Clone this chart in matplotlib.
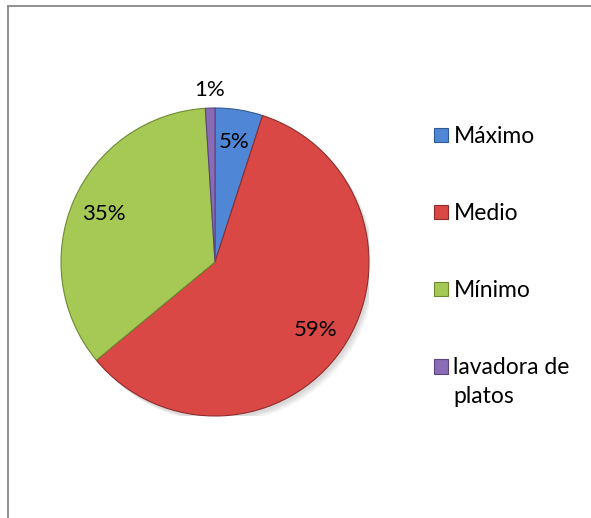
import matplotlib.pyplot as plt
from matplotlib.lines import Line2D
from matplotlib.patches import Circle
import numpy as np

plt.rcParams['font.family'] = ['Lato', 'DejaVu Sans']

# datos del grafico
categorias = ['Máximo', 'Medio', 'Mínimo', 'lavadora de platos']
valores = [5, 59, 35, 1]
colores = ['#4f86d6', '#d94845', '#a6c955', '#8a6bb5']
bordes = ['#2f5a96', '#8f2d2b', '#6d8a32', '#5a4480']

W, H = 591, 518
fig = plt.figure(figsize=(W / 100, H / 100), dpi=100)

# marco gris (solo arriba e izquierda)
fig.add_artist(Line2D([7.5 / W, 7.5 / W], [0, 1 - 5.5 / H], color='#878787', lw=1.3))
fig.add_artist(Line2D([7.5 / W, 1], [1 - 5.5 / H, 1 - 5.5 / H], color='#878787', lw=1.3))

# ejes del pastel: centro (215, 262), radio 154 px
cx, cy, r = 215, 262, 154
ax = fig.add_axes([(cx - r) / W, (H - cy - r) / H, 2 * r / W, 2 * r / H])

# sombra suave
for i in range(3):
    ax.add_patch(Circle((0.015 + 0.01 * i, -0.02 - 0.01 * i), 1.0,
                        color='#000000', alpha=0.05, lw=0, zorder=0))

wedges, textos, pcts = ax.pie(
    valores, colors=colores, startangle=90, counterclock=False,
    autopct='%1.0f%%', pctdistance=0.79,
    wedgeprops=dict(linewidth=0.8),
    textprops=dict(fontsize=16, color='black'))

for w, b in zip(wedges, bordes):
    w.set_edgecolor(b)
    w.set_zorder(2)

# etiqueta de la rebanada pequena va fuera
ang = np.deg2rad(90 - 360 * (sum(valores[:-1]) + valores[-1] / 2) / sum(valores))
pcts[-1].set_position((1.12 * np.cos(ang), 1.12 * np.sin(ang)))

ax.set_xlim(-1, 1)
ax.set_ylim(-1, 1)
ax.set_aspect('equal')
ax.axis('off')

# la ultima etiqueta se parte en dos lineas; la segunda va aparte
etiquetas = [c for c in categorias]
etiquetas[-1] = 'lavadora de'
leg = fig.legend(wedges, etiquetas, loc='upper left',
                 bbox_to_anchor=(434 / W, 1 - 126 / H),
                 frameon=False, fontsize=16.5, handlelength=0.6,
                 handleheight=0.6, handletextpad=0.25, labelspacing=2.45,
                 borderpad=0, borderaxespad=0)

fig.canvas.draw()
t = leg.get_texts()[-1]
bb = t.get_window_extent().transformed(fig.transFigure.inverted())
fig.text(bb.x0, bb.y0 - 29 / H, 'platos', fontsize=16.5, va='bottom', ha='left')

fig.savefig('out.png', dpi=100)
